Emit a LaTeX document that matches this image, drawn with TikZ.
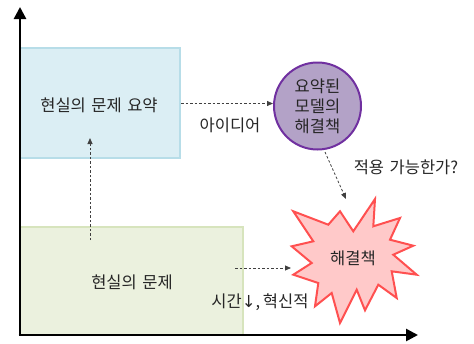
\documentclass[tikz,border=0pt]{standalone}
\usepackage{fontspec}
\setmainfont{Noto Sans CJK KR}[WordSpace=1.5]
\newfontfamily\arrowfont{DejaVu Sans}
\usetikzlibrary{arrows.meta}
\definecolor{bluefill}{HTML}{DBEEF4}
\definecolor{blueline}{HTML}{B7DDE8}
\definecolor{greenfill}{HTML}{EBF1DE}
\definecolor{greenline}{HTML}{D7E4BD}
\definecolor{purpfill}{HTML}{B3A2C7}
\definecolor{purpline}{HTML}{7030A0}
\definecolor{redfill}{HTML}{FFC9C9}
\definecolor{redline}{HTML}{FF5050}
\definecolor{txt}{HTML}{262626}
\tikzset{
  box/.style={draw, line width=2pt, inner sep=0pt, text=txt},
  lbl/.style={inner sep=0pt, text=txt, font=\fontsize{16.5}{19}\selectfont},
  dasharrow/.style={draw=black!75, line width=0.8pt, dash pattern=on 2.5pt off 2pt, -{Triangle[length=6pt,width=5pt]}},
  axis/.style={line width=2.6pt, -{Triangle[length=12pt,width=12pt]}}
}
\begin{document}
\begin{tikzpicture}[x=1pt,y=-1pt]
\useasboundingbox (0,0) rectangle (474,343);
\node[box, fill=bluefill, draw=blueline, minimum width=160pt, minimum height=110pt] (blue) at (100,103) {};
\node[lbl] (bluet) at (99,105) {현실의 문제 요약};
\node[box, fill=greenfill, draw=greenline, minimum width=223pt, minimum height=108pt] (green) at (131.5,281) {};
\node[lbl] (greent) at (132,282) {현실의 문제};
\node[box, circle, fill=purpfill, draw=purpline, minimum size=87pt, align=center, font=\fontsize{16.5}{20}\selectfont] (circ) at (317.5,106) {요약된\\모델의\\해결책};
\draw[line width=2pt, draw=redline, fill=redfill, line join=miter]
 (375,199) -- (373.3,226.3) -- (400,218) -- (390,239.7) -- (413.3,245.7) -- (393.3,254.7)
 -- (416.7,274.7) -- (391.7,271.3) -- (396.7,298) -- (378.3,284.7) -- (365,310.3)
 -- (356.7,289.7) -- (340,323) -- (331.7,293) -- (315,306.3) -- (318.3,283)
 -- (293.3,274.7) -- (311.7,263) -- (291.7,246.3) -- (313.3,241.3) -- (293.3,211.3)
 -- (328.3,224.7) -- (340,211.3) -- (353.3,231.3) -- cycle;
\node[lbl] (star) at (353,258) {해결책};
\coordinate (origin) at (20,335);
\coordinate (ytip) at (20,7);
\coordinate (xtip) at (418,335);
\draw[axis] (origin) -- (ytip);
\draw[axis] ([xshift=-1.3pt]origin) -- (xtip);
\coordinate (g1) at (90,240);
\coordinate (g2) at (90,138);
\draw[dasharrow] (g1) -- (g2);
\coordinate (b1) at (181,103.5);
\coordinate (b2) at (273,103.5);
\draw[dasharrow] (b1) -- (b2);
\node[lbl] (idea) at (230,125) {아이디어};
\coordinate (c1) at (325,152);
\coordinate (c2) at (346,199);
\draw[dasharrow] (c1) -- (c2);
\node[lbl] (apply) at (406,167) {적용 가능한가?};
\coordinate (h1) at (235,268);
\coordinate (h2) at (291,268);
\draw[dasharrow] (h1) -- (h2);
\node[lbl] (time) at (260,302) {시간{\arrowfont ↓},\,혁신적};
\end{tikzpicture}
\end{document}
